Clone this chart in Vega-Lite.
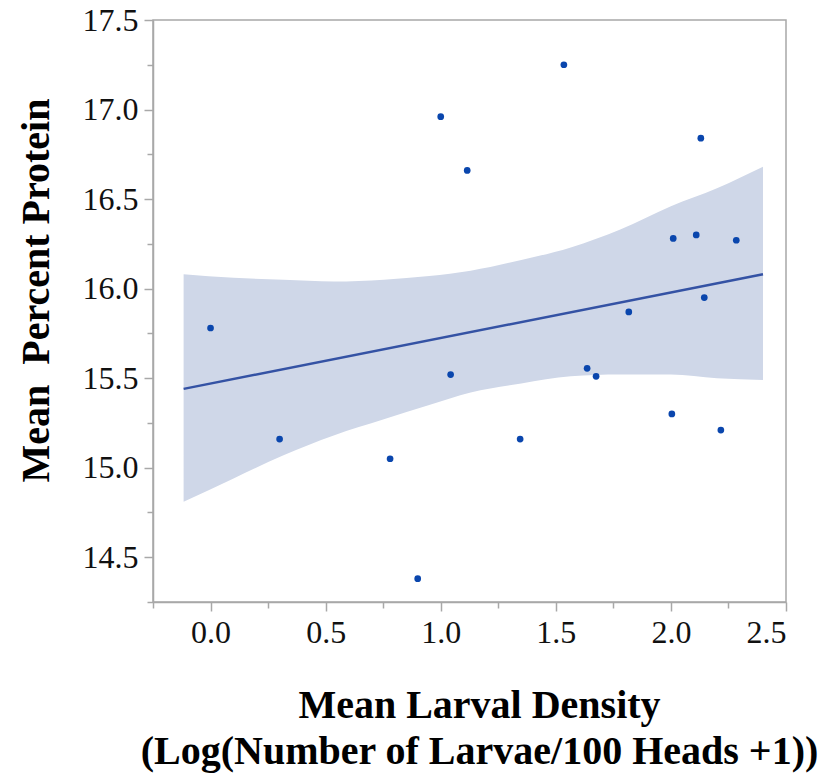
{
  "$schema": "https://vega.github.io/schema/vega-lite/v6.json",
  "autosize": {"type": "none"},
  "width": 633,
  "height": 582,
  "padding": {"left": 153, "top": 20, "right": 47, "bottom": 178},
  "background": "white",
  "config": {
    "view": {"stroke": "#a8a8a8", "strokeWidth": 1.5},
    "axis": {
      "grid": false,
      "domainColor": "#a8a8a8",
      "domainWidth": 1.5,
      "tickColor": "#a8a8a8",
      "tickWidth": 1.5,
      "labelFont": "Liberation Serif",
      "labelFontSize": 32,
      "labelColor": "#111111",
      "titleFont": "Liberation Serif",
      "titleFontSize": 40,
      "titleFontWeight": "bold",
      "titleColor": "#000000"
    }
  },
  "datasets": {
    "points": [
      {"x": 0.0, "y": 15.78},
      {"x": 0.30, "y": 15.16},
      {"x": 0.78, "y": 15.05},
      {"x": 0.90, "y": 14.38},
      {"x": 1.00, "y": 16.96},
      {"x": 1.043, "y": 15.52},
      {"x": 1.115, "y": 16.66},
      {"x": 1.345, "y": 15.16},
      {"x": 1.535, "y": 17.25},
      {"x": 1.636, "y": 15.555},
      {"x": 1.675, "y": 15.51},
      {"x": 1.817, "y": 15.87},
      {"x": 2.004, "y": 15.30},
      {"x": 2.01, "y": 16.28},
      {"x": 2.11, "y": 16.30},
      {"x": 2.13, "y": 16.84},
      {"x": 2.145, "y": 15.95},
      {"x": 2.217, "y": 15.21},
      {"x": 2.284, "y": 16.27}
    ],
    "band": [
      {"x": -0.117, "lo": 14.81, "hi": 16.08},
      {"x": 0.1, "lo": 14.94, "hi": 16.06},
      {"x": 0.317, "lo": 15.07, "hi": 16.05},
      {"x": 0.535, "lo": 15.18, "hi": 16.04},
      {"x": 0.753, "lo": 15.27, "hi": 16.05},
      {"x": 0.95, "lo": 15.35, "hi": 16.07},
      {"x": 1.13, "lo": 15.42, "hi": 16.10},
      {"x": 1.35, "lo": 15.47, "hi": 16.16},
      {"x": 1.565, "lo": 15.51, "hi": 16.23},
      {"x": 1.78, "lo": 15.52, "hi": 16.33},
      {"x": 2.0, "lo": 15.52, "hi": 16.46},
      {"x": 2.2, "lo": 15.50, "hi": 16.56},
      {"x": 2.40, "lo": 15.49, "hi": 16.68}
    ],
    "fit": [
      {"x": -0.117, "y": 15.44},
      {"x": 2.40, "y": 16.08}
    ]
  },
  "layer": [
    {
      "data": {"name": "band"},
      "mark": {"type": "area", "color": "#cfd7e8", "opacity": 1, "interpolate": "monotone"},
      "encoding": {
        "x": {
          "field": "x", "type": "quantitative",
          "scale": {"domain": [-0.25, 2.5], "nice": false, "zero": false},
          "axis": {
            "orient": "bottom",
            "values": [0, 0.5, 1, 1.5, 2, 2.5],
            "format": ".1f",
            "tickSize": 9,
            "labelPadding": 6,
            "title": ["Mean Larval Density", "(Log(Number of Larvae/100 Heads +1))"],
            "titleX": 326,
            "titleY": 115,
            "titleBaseline": "alphabetic",
            "titleLineHeight": 46
          }
        },
        "y": {
          "field": "lo", "type": "quantitative",
          "scale": {"domain": [14.25, 17.5], "nice": false, "zero": false},
          "axis": {
            "orient": "left",
            "values": [14.5, 15, 15.5, 16, 16.5, 17, 17.5],
            "format": ".1f",
            "tickSize": 9,
            "labelPadding": 6,
            "title": "Mean\u00a0\u00a0Percent Protein",
            "titleX": -105,
            "titleY": 270,
            "titleAngle": 270,
            "titleAlign": "center",
            "titleBaseline": "alphabetic"
          }
        },
        "y2": {"field": "hi"}
      }
    },
    {
      "data": {"name": "fit"},
      "mark": {"type": "line", "color": "#3452a4", "strokeWidth": 2.5},
      "encoding": {
        "x": {"field": "x", "type": "quantitative", "axis": null},
        "y": {"field": "y", "type": "quantitative", "axis": null}
      }
    },
    {
      "data": {"name": "points"},
      "mark": {"type": "point", "filled": true, "color": "#0a46ad", "opacity": 1, "size": 45},
      "encoding": {
        "x": {
          "field": "x", "type": "quantitative",
          "axis": {
            "orient": "bottom",
            "values": [-0.25, 0.25, 0.75, 1.25, 1.75, 2.25],
            "labels": false,
            "domain": false,
            "tickSize": 6,
            "title": null
          }
        },
        "y": {
          "field": "y", "type": "quantitative",
          "axis": {
            "orient": "left",
            "values": [14.25, 14.75, 15.25, 15.75, 16.25, 16.75, 17.25],
            "labels": false,
            "domain": false,
            "tickSize": 6,
            "title": null
          }
        }
      }
    }
  ],
  "resolve": {"axis": {"x": "independent", "y": "independent"}}
}
